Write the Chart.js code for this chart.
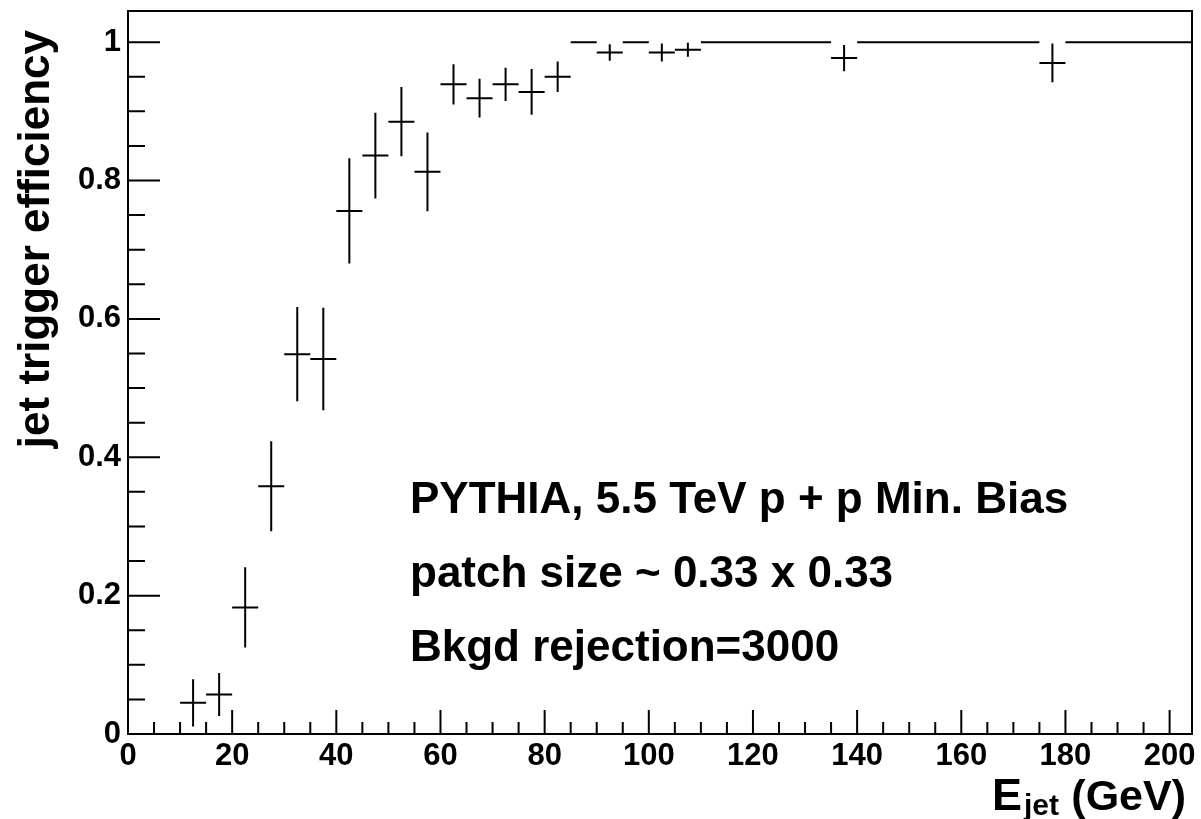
<!DOCTYPE html>
<html>
<head>
<meta charset="utf-8">
<script src="https://cdn.jsdelivr.net/npm/chart.js@4"></script>
<style>
  body { margin: 0; background: #fff; }
  canvas { display: block; }
</style>
</head>
<body>
<canvas id="effChart" width="1201" height="819"></canvas>
<script>
// bin centres (GeV), 5 GeV wide bins
var binCenters = [12.5, 17.5, 22.5, 27.5, 32.5, 37.5, 42.5, 47.5, 52.5, 57.5,
                  62.5, 67.5, 72.5, 77.5, 82.5, 87.5, 92.5, 97.5, 102.5, 107.5,
                  112.5, 117.5, 122.5, 127.5, 132.5, 137.5,
                  142.5, 147.5, 152.5, 157.5, 162.5, 167.5, 172.5, 177.5,
                  182.5, 187.5, 192.5, 197.5, 202.5];
var efficiency = [0.045, 0.057, 0.183, 0.358, 0.549, 0.542, 0.756, 0.836, 0.885, 0.8125,
                  0.939, 0.919, 0.939, 0.928, 0.950, 1, 0.985, 1, 0.985, 0.989,
                  1, 1, 1, 1, 1, 0.977,
                  1, 1, 1, 1, 1, 1, 1, 0.970,
                  1, 1, 1, 1, 1];
var effError = [0.034, 0.031, 0.058, 0.065, 0.068, 0.074, 0.076, 0.062, 0.050, 0.057,
                0.029, 0.028, 0.024, 0.033, 0.022, 0, 0.012, 0, 0.013, 0.010,
                0, 0, 0, 0, 0, 0.019,
                0, 0, 0, 0, 0, 0, 0, 0.028,
                0, 0, 0, 0, 0];
var binWidth = 5;
var xRange = [0, 204.3];
var yRange = [0, 1.045];
var xTickStep = 20, xMinorStep = 5;
var yTickStep = 0.2, yMinorStep = 0.05;
var notes = ['PYTHIA, 5.5 TeV p + p Min. Bias', 'patch size ~ 0.33 x 0.33', 'Bkgd rejection=3000'];

var FONT = "'Liberation Sans', Arial, Helvetica, sans-serif";

var points = binCenters.map(function (x, i) {
    return { x: x, y: efficiency[i], err: effError[i] };
});

// ROOT-like drawing: error crosses, inside ticks, frame, titles, notes
var rootStyle = {
    id: 'rootStyle',
    afterDatasetsDraw: function (chart) {
        var ctx = chart.ctx, a = chart.chartArea;
        var xs = chart.scales.x, ys = chart.scales.y;
        ctx.save();
        ctx.strokeStyle = '#000';
        ctx.lineWidth = 2;
        ctx.lineCap = 'butt';

        // error bars
        ctx.save();
        ctx.beginPath();
        ctx.rect(a.left, a.top, a.right - a.left, a.bottom - a.top);
        ctx.clip();
        ctx.beginPath();
        points.forEach(function (p) {
            var py = ys.getPixelForValue(p.y);
            ctx.moveTo(xs.getPixelForValue(p.x - binWidth / 2), py);
            ctx.lineTo(xs.getPixelForValue(p.x + binWidth / 2), py);
            if (p.err > 0) {
                var px = xs.getPixelForValue(p.x);
                ctx.moveTo(px, ys.getPixelForValue(p.y + p.err));
                ctx.lineTo(px, ys.getPixelForValue(p.y - p.err));
            }
        });
        ctx.stroke();
        ctx.restore();

        // ticks inside frame
        ctx.beginPath();
        var v, px, py, big;
        for (v = xRange[0]; v <= xRange[1] + 1e-9; v += xMinorStep) {
            px = xs.getPixelForValue(v);
            big = Math.abs(v / xTickStep - Math.round(v / xTickStep)) < 1e-6;
            ctx.moveTo(px, a.bottom);
            ctx.lineTo(px, a.bottom - (big ? 24 : 12));
        }
        for (v = yRange[0]; v <= yRange[1] + 1e-9; v += yMinorStep) {
            py = ys.getPixelForValue(v);
            big = Math.abs(v / yTickStep - Math.round(v / yTickStep)) < 1e-6;
            ctx.moveTo(a.left, py);
            ctx.lineTo(a.left + (big ? 32 : 17), py);
        }
        ctx.stroke();

        // frame
        ctx.strokeRect(a.left, a.top, a.right - a.left, a.bottom - a.top);

        // y title
        ctx.fillStyle = '#000';
        ctx.save();
        ctx.translate(49, 30);
        ctx.rotate(-Math.PI / 2);
        ctx.font = 'bold 44px ' + FONT;
        ctx.textAlign = 'right';
        ctx.textBaseline = 'alphabetic';
        ctx.fillText('jet trigger efficiency', 0, 0);
        ctx.restore();

        // x title with subscript
        ctx.textAlign = 'left';
        ctx.textBaseline = 'alphabetic';
        ctx.font = 'bold 45px ' + FONT;
        ctx.fillText('E', 992, 810);
        ctx.font = 'bold 30px ' + FONT;
        ctx.fillText('jet', 1024, 815);
        ctx.font = 'bold 43px ' + FONT;
        ctx.textAlign = 'right';
        ctx.fillText('(GeV)', 1186, 810);

        // notes
        ctx.textAlign = 'left';
        ctx.font = 'bold 44px ' + FONT;
        notes.forEach(function (t, i) {
            ctx.fillText(t, 410, 513 + i * 74);
        });
        ctx.restore();
    }
};

function plainLabel(value) {
    return String(Number(value.toFixed(2)));
}

var ctx = document.getElementById('effChart').getContext('2d');
var myChart = new Chart(ctx, {
    type: 'scatter',
    data: {
        datasets: [{
            label: 'efficiency',
            data: points,
            pointRadius: 0,
            showLine: false
        }]
    },
    options: {
        responsive: false,
        animation: false,
        layout: { padding: { top: 11, right: 9, left: 0, bottom: 0 } },
        plugins: { legend: { display: false }, tooltip: { enabled: false } },
        scales: {
            x: {
                type: 'linear',
                min: xRange[0],
                max: xRange[1],
                grid: { display: false, drawTicks: false },
                border: { display: false },
                ticks: {
                    stepSize: xTickStep,
                    includeBounds: false,
                    autoSkip: false,
                    maxRotation: 0,
                    padding: 4,
                    color: '#000',
                    font: { family: FONT, size: 31, weight: 'bold' },
                    callback: plainLabel
                },
                afterFit: function (s) {
                    s.height = 85;
                    s.paddingLeft = 0;
                    s.paddingRight = 0;
                }
            },
            y: {
                type: 'linear',
                min: yRange[0],
                max: yRange[1],
                grid: { display: false, drawTicks: false },
                border: { display: false },
                ticks: {
                    stepSize: yTickStep,
                    includeBounds: false,
                    padding: 7,
                    color: '#000',
                    font: { family: FONT, size: 31, weight: 'bold' },
                    callback: plainLabel
                },
                afterFit: function (s) {
                    s.width = 128;
                    s.paddingTop = 0;
                    s.paddingBottom = 0;
                }
            }
        }
    },
    plugins: [rootStyle]
});
</script>
</body>
</html>
